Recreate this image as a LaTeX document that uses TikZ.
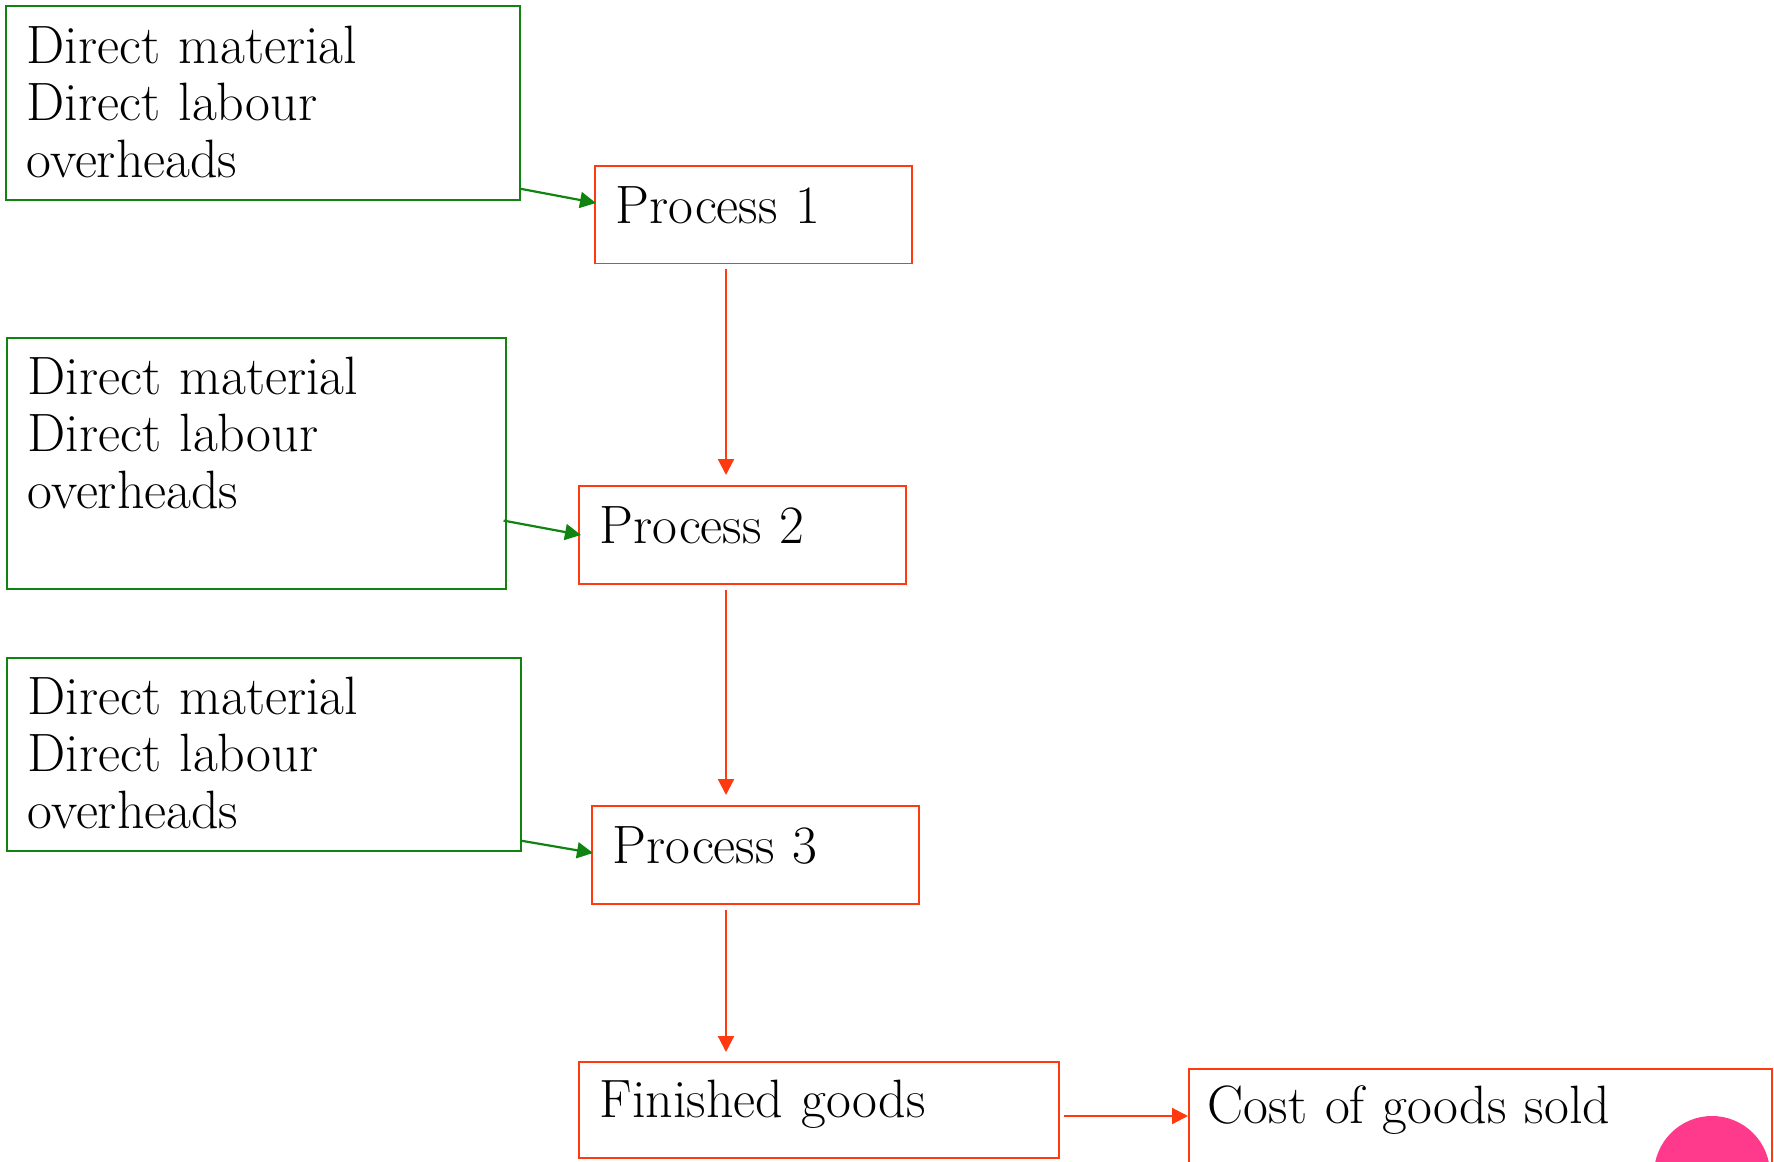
\documentclass[tikz,border=0pt]{standalone}
\usetikzlibrary{arrows.meta,calc}
\definecolor{boxgreen}{RGB}{16,132,16}
\definecolor{boxred}{RGB}{255,58,16}
\definecolor{dotpink}{RGB}{255,58,140}
\tikzset{
  basebox/.style={rectangle, anchor=north west, inner ysep=0pt, inner xsep=10.5pt,
    align=left, line width=0.8pt,
    font=\fontsize{27}{28.5}\selectfont},
  costbox/.style={basebox, draw=boxgreen},
  procbox/.style={basebox, draw=boxred},
  greenarrow/.style={draw=boxgreen, line width=1.1pt, -{Triangle[length=8pt,width=8pt]}},
  redarrow/.style={draw=boxred, line width=1.1pt, -{Triangle[length=8pt,width=8pt]}},
}
\begin{document}
\begin{tikzpicture}[x=0.5pt,y=-0.5pt]
\useasboundingbox (0,0) rectangle (1774,1162);
% input boxes
\node[costbox, text width=236pt, text height=29pt, text depth=68pt] (g1) at (5,5)
  {Direct material\\Direct labour\\overheads};
\node[costbox, text width=228.5pt, text height=28.5pt, text depth=97pt] (g2) at (6,337)
  {Direct material\\Direct labour\\overheads};
\node[costbox, text width=236pt, text height=28.5pt, text depth=68pt] (g3) at (6,657)
  {Direct material\\Direct labour\\overheads};
% process boxes
\node[procbox, text width=137.5pt, text height=28.8pt, text depth=20pt] (p1) at (594,165) {Process 1};
\node[procbox, text width=142.5pt, text height=29pt, text depth=20pt] (p2) at (578,485) {Process 2};
\node[procbox, text width=142.5pt, text height=29pt, text depth=20pt] (p3) at (591,805) {Process 3};
\node[procbox, text width=219pt, text height=28pt, text depth=20pt] (fg) at (578,1061) {Finished goods};
\node[procbox, inner xsep=9.5pt, text width=272.5pt, text height=27.5pt, text depth=22pt] (cg) at (1188,1068) {Cost of goods sold};
% pink dot
\fill[dotpink] (1712,1174) circle[radius=29pt];
% green arrows
\draw[greenarrow] ($(g1.south east)+(-1,-12)$) -- ($(p1.north west)+(2,38)$);
\draw[greenarrow] ($(g2.south east)+(-3,-69)$) -- ($(p2.north west)+(3,50)$);
\draw[greenarrow] ($(g3.south east)+(-1,-11)$) -- ($(p3.north west)+(2,48)$);
% red arrows
\draw[redarrow] ($(p1.south west)+(132,5)$) -- ($(p2.north west)+(148,-10)$);
\draw[redarrow] ($(p2.south west)+(148,5)$) -- ($(p3.north west)+(135,-10)$);
\draw[redarrow] ($(p3.south west)+(135,5)$) -- ($(fg.north west)+(148,-9)$);
\draw[redarrow] ($(fg.north east)+(4,55)$) -- ($(cg.north west)+(0,48)$);
\end{tikzpicture}
\end{document}
